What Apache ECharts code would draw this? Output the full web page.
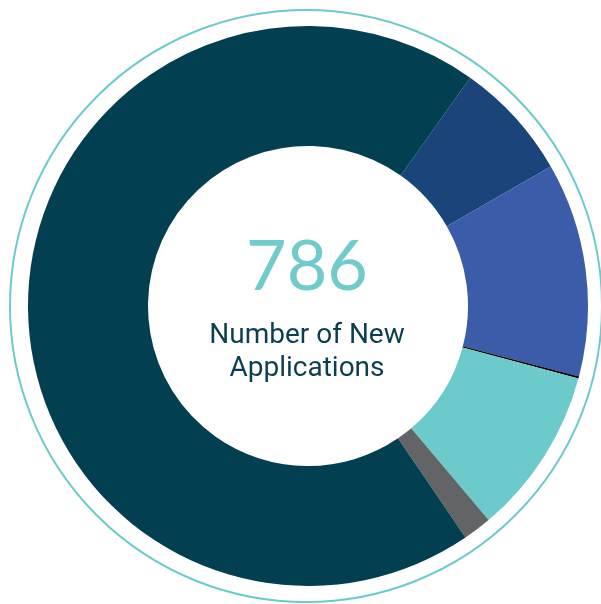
<!DOCTYPE html>
<html>
<head>
<meta charset="utf-8">
<script src="https://cdn.jsdelivr.net/npm/echarts@6/dist/echarts.min.js"></script>
<style>
  html, body { margin: 0; padding: 0; background: #fff; }
  #chart { width: 601px; height: 604px; }
</style>
</head>
<body>
<div id="chart"></div>
<script>
const categories = ["Segment A", "Segment B", "Segment C", "Segment D", "Segment E", "Segment F"];
const values = [54, 97, 1, 76, 13, 545];
const colors = ["#1a447a", "#3b5ca8", "#000000", "#6ccaca", "#636466", "#023f50"];
const totalLabel = "786";
const subLabel = "Number of New\nApplications";

function renderChart() {
  const chart = echarts.init(document.getElementById("chart"));

  const pieData = categories.map((name, i) => ({
    name: name,
    value: values[i],
    itemStyle: { color: colors[i] },
  }));

  const option = {
    animation: false,
    graphic: [
      {
        type: "circle",
        silent: true,
        shape: { cx: 306, cy: 306, r: 296 },
        style: { fill: null, stroke: "#6dcacb", lineWidth: 2 },
      },
      {
        type: "text",
        silent: true,
        z: 10,
        x: 307,
        y: 302,
        style: {
          text: totalLabel,
          fill: "#72cbcb",
          font: "400 70px Lato",
          align: "center",
          verticalAlign: "bottom",
        },
      },
      {
        type: "text",
        silent: true,
        z: 10,
        x: 307,
        y: 319,
        style: {
          text: subLabel,
          fill: "#0b3f50",
          font: "400 28px Roboto",
          lineHeight: 33,
          align: "center",
          verticalAlign: "top",
        },
      },
    ],
    series: [
      {
        type: "pie",
        center: [308, 306],
        radius: [160, 280],
        startAngle: 54.6,
        clockwise: true,
        silent: true,
        label: { show: false },
        labelLine: { show: false },
        itemStyle: { borderWidth: 0 },
        data: pieData,
      },
    ],
  };

  chart.setOption(option);
}

document.addEventListener("DOMContentLoaded", function () {
  renderChart();
});
</script>
</body>
</html>
